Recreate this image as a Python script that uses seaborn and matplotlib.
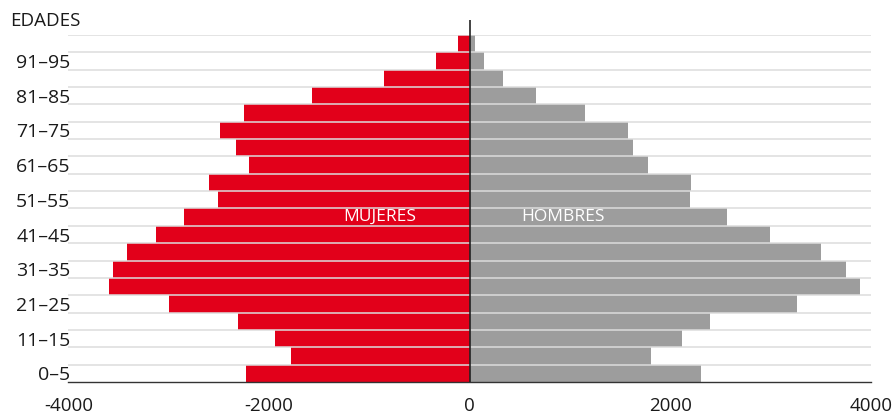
import numpy as np
import pandas as pd
import matplotlib
matplotlib.use("Agg")
import matplotlib.pyplot as plt
import seaborn as sns

# ---- data (youngest to oldest) ----
ages = ["0–5", "6–10", "11–15", "16–20", "21–25", "26–30", "31–35", "36–40",
        "41–45", "46–50", "51–55", "56–60", "61–65", "66–70", "71–75", "76–80",
        "81–85", "86–90", "91–95", "96–100"]
mujeres = [2225, 1780, 1935, 2305, 2995, 3590, 3555, 3415, 3125, 2845,
           2510, 2595, 2195, 2325, 2485, 2245, 1570, 855, 330, 115]
hombres = [2310, 1810, 2115, 2400, 3265, 3895, 3750, 3505, 2995, 2570,
           2200, 2205, 1775, 1635, 1585, 1150, 665, 330, 145, 50]
label_ages = ["0–5", "11–15", "21–25", "31–35", "41–45", "51–55", "61–65",
              "71–75", "81–85", "91–95"]
xticks = [-4000, -2000, 0, 2000, 4000]
xticklabels = ["-4000", "-2000", "0", "2000", "4000"]

RED = "#e2001a"
GRAY = "#9d9d9d"

sns.set_style("white")
plt.rcParams["font.family"] = ["Open Sans", "DejaVu Sans"]

df = pd.DataFrame({
    "age": ages * 2,
    "sexo": ["MUJERES"] * len(ages) + ["HOMBRES"] * len(ages),
    "valor": [-v for v in mujeres] + list(hombres),
})
order = ages[::-1]  # oldest on top

fig = plt.figure(figsize=(8.95, 4.17), dpi=100)
ax = fig.add_axes([68.3 / 895, 1 - 382 / 417, (870.7 - 68.3) / 895, (382 - 35) / 417])

sns.barplot(data=df, y="age", x="valor", hue="sexo", order=order,
            hue_order=["MUJERES", "HOMBRES"], palette=[RED, GRAY],
            saturation=1, dodge=False, orient="h", width=1.0, linewidth=0,
            legend=False, ax=ax, zorder=2)

n = len(ages)
ax.set_xlim(-4000, 4000)
ax.set_ylim(n - 0.5, -0.5)

# horizontal separators
ax.hlines(np.arange(-0.5, n - 1), -4000, 4000, color="#dcdcdc", lw=1.1, zorder=3)

# zero line extending above the plot
row_px = (382 - 35) / n
ax.plot([0, 0], [n - 0.5, -0.5 - 15 / row_px], color="#222222", lw=1.2,
        clip_on=False, zorder=4, solid_capstyle="butt")

# y labels
pos = [order.index(a) for a in label_ages]
ax.set_yticks(pos)
ax.set_yticklabels(label_ages, fontsize=14, color="#1a1a1a")
ax.tick_params(axis="y", length=0, pad=-1.5)

ax.set_xticks(xticks)
ax.set_xticklabels(xticklabels, fontsize=13.5, color="#1a1a1a")
ax.tick_params(axis="x", direction="out", length=6.5, width=1, color="#333333", pad=4.5)

ax.set_xlabel("")
ax.set_ylabel("")
for s in ["top", "left", "right"]:
    ax.spines[s].set_visible(False)
ax.spines["bottom"].set_color("#333333")
ax.spines["bottom"].set_linewidth(1)

# annotations
row = order.index("46–50")
ax.text(-890, row, "MUJERES", color="white", fontsize=12.5, ha="center", va="center", zorder=5)
ax.text(935, row, "HOMBRES", color="white", fontsize=12.5, ha="center", va="center", zorder=5)

fig.text(10 / 895, 1 - 21 / 417, "EDADES", fontsize=13.5, color="#1a1a1a",
         ha="left", va="center")

fig.savefig("out.png", dpi=100)
